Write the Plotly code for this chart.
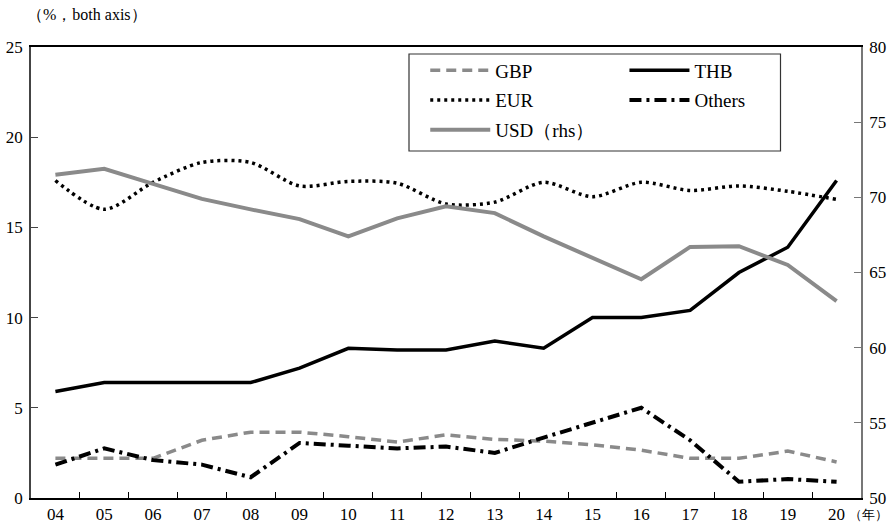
import plotly.graph_objects as go

years = ["04", "05", "06", "07", "08", "09", "10", "11", "12",
         "13", "14", "15", "16", "17", "18", "19", "20"]

gbp = [2.2, 2.2, 2.2, 3.2, 3.65, 3.65, 3.4, 3.1, 3.5, 3.25, 3.15, 2.95, 2.65, 2.2, 2.2, 2.6, 2.0]
thb = [5.9, 6.4, 6.4, 6.4, 6.4, 7.2, 8.3, 8.2, 8.2, 8.7, 8.3, 10.0, 10.0, 10.4, 12.5, 13.9, 17.6]
eur = [17.6, 16.0, 17.5, 18.6, 18.6, 17.3, 17.55, 17.45, 16.3, 16.4, 17.5, 16.7, 17.5, 17.05, 17.3, 17.0, 16.55]
others = [1.85, 2.75, 2.1, 1.85, 1.15, 3.05, 2.9, 2.75, 2.85, 2.5, 3.35, 4.15, 5.0, 3.2, 0.9, 1.05, 0.9]
usd = [71.5, 71.9, 70.9, 69.9, 69.2, 68.55, 67.4, 68.6, 69.4, 68.95, 67.4, 66.0, 64.55, 66.7, 66.75, 65.5, 63.1]

left_ticks = [0, 5, 10, 15, 20, 25]
right_ticks = [50, 55, 60, 65, 70, 75, 80]

GRAY = "#8a8a8a"
FONT = "Liberation Serif"
TICKFONT = dict(family=FONT, size=17, color="black")

fig = go.Figure()

fig.add_trace(go.Scatter(x=years, y=usd, name="USD（rhs）", yaxis="y2", mode="lines",
                         line=dict(color=GRAY, width=4), legend="legend", legendgroup="c",
                         legendrank=3))
fig.add_trace(go.Scatter(x=years, y=gbp, name="GBP", mode="lines",
                         line=dict(color=GRAY, width=3.5, dash="10px,6px"), legend="legend",
                         legendgroup="a", legendrank=1))
fig.add_trace(go.Scatter(x=years, y=eur, name="EUR", mode="lines",
                         line=dict(color="black", width=3.5, dash="3px,4px", shape="spline", smoothing=0.8),
                         legend="legend", legendgroup="b", legendrank=2))
fig.add_trace(go.Scatter(x=years, y=thb, name="THB", mode="lines",
                         line=dict(color="black", width=3.5), legend="legend2", legendgroup="d",
                         legendrank=4))
fig.add_trace(go.Scatter(x=years, y=others, name="Others", mode="lines",
                         line=dict(color="black", width=4, dash="12px,5px,3px,5px"),
                         legend="legend2", legendgroup="e", legendrank=5))

legend_common = dict(
    bgcolor="rgba(0,0,0,0)", borderwidth=0, font=dict(family=FONT, size=19, color="black"),
    itemwidth=60, tracegroupgap=2, traceorder="grouped", yanchor="top", xanchor="left",
)

fig.update_layout(
    template="none",
    width=890, height=529,
    margin=dict(l=31, r=29, t=47, b=31, autoexpand=False),
    paper_bgcolor="white", plot_bgcolor="white",
    font=dict(family=FONT, size=17, color="black"),
    showlegend=True,
    legend=dict(x=0.475, y=0.99, **legend_common),
    legend2=dict(x=0.715, y=0.99, **legend_common),
    xaxis=dict(type="category", categoryorder="array", categoryarray=years,
               tickson="boundaries", ticks="inside", ticklen=6, tickcolor="black",
               tickfont=TICKFONT,
               showline=True, linecolor="black", linewidth=1.5, mirror=True,
               showgrid=False, zeroline=False, range=[-0.5, 16.5], automargin=False),
    yaxis=dict(range=[0, 25], tickvals=left_ticks, ticks="inside", ticklen=7,
               tickfont=TICKFONT,
               tickcolor="#444", showline=True, linecolor="#444", linewidth=1.5,
               showgrid=False, zeroline=False, ticklabelstandoff=3, automargin=False),
    yaxis2=dict(range=[50, 80], tickvals=right_ticks, overlaying="y", side="right",
                ticks="inside", ticklen=7, tickcolor="#777", showline=True,
                tickfont=TICKFONT,
                linecolor="#777", linewidth=1.5, showgrid=False, zeroline=False,
                ticklabelstandoff=3, automargin=False),
    shapes=[dict(type="rect", xref="paper", yref="paper",
                 x0=(409 - 31) / 830, x1=(780.5 - 31) / 830,
                 y0=(498 - 151) / 451, y1=(498 - 54) / 451,
                 line=dict(color="#333", width=1.2), fillcolor="white", layer="below")],
    annotations=[
        dict(text="（%，both axis）", xref="paper", yref="paper", x=0, y=1,
             xanchor="left", yanchor="bottom", xshift=-6, yshift=22, showarrow=False,
             font=dict(family=FONT, size=16)),
        dict(text="（年）", xref="paper", yref="paper", x=1, y=0,
             xanchor="left", yanchor="top", xshift=-14, yshift=-7, showarrow=False,
             font=dict(family=FONT, size=13)),
    ],
)

fig.write_html("out.html", config={"displayModeBar": False},
               post_script="document.body.style.margin='0';document.body.style.padding='0';")
